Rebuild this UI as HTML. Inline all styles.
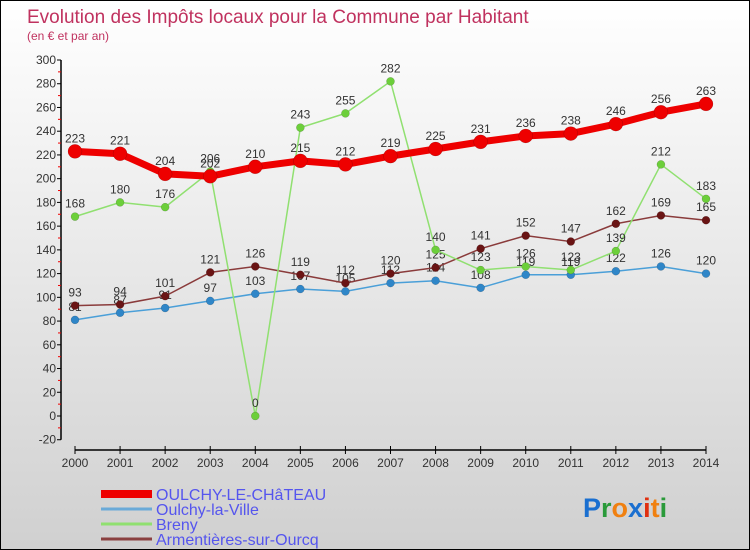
<!DOCTYPE html>
<html><head><meta charset="utf-8"><style>
body{margin:0}
#c{width:750px;height:550px;position:relative;box-sizing:border-box;border:1px solid #000;background:linear-gradient(#ffffff,#d0d0d0);font-family:"Liberation Sans",sans-serif;overflow:hidden}
</style></head><body>
<div id="c">
<svg id="s" width="748" height="548" style="position:absolute;left:0;top:0"></svg>
</div>
<script>
const years=[2000,2001,2002,2003,2004,2005,2006,2007,2008,2009,2010,2011,2012,2013,2014];
const oulchyChateau=[223,221,204,202,210,215,212,219,225,231,236,238,246,256,263];
const oulchyVille=[81,87,91,97,103,107,105,112,114,108,119,119,122,126,120];
const breny=[168,180,176,206,0,243,255,282,140,123,126,123,139,212,183];
const armentieres=[93,94,101,121,126,119,112,120,125,141,152,147,162,169,165];
const yTicks=[-20,0,20,40,60,80,100,120,140,160,180,200,220,240,260,280,300];
const seriesNames=["OULCHY-LE-CHâTEAU","Oulchy-la-Ville","Breny","Armentières-sur-Ourcq"];
const NS="http://www.w3.org/2000/svg";
const s=document.getElementById('s');
function el(t,a,p){const e=document.createElementNS(NS,t);for(const k in a)e.setAttribute(k,a[k]);(p||s).appendChild(e);return e;}
const x=i=>74+i*(705-74)/14;
const y=v=>415-v*(415-59)/300;
let t=el('text',{x:26,y:22,fill:'#c0325f','font-size':19});t.textContent="Evolution des Impôts locaux pour la Commune par Habitant";

t=el('text',{x:26,y:39,fill:'#c0325f','font-size':12});t.textContent="(en € et par an)";

// y axis
let ax=el('line',{x1:60,y1:y(300),x2:60,y2:y(-20),stroke:'#000','stroke-width':1.5});

yTicks.forEach((v,i)=>{
 el('line',{x1:56,x2:60,y1:y(v),y2:y(v),stroke:'#000'});
 if(i<yTicks.length-1)el('line',{x1:57,x2:60,y1:y(v+10),y2:y(v+10),stroke:'#e00'});
 const tt=el('text',{x:55,y:y(v)+4,'text-anchor':'end','font-size':12,fill:'#333'});tt.textContent=v;
 
});
ax=el('line',{x1:x(0),y1:449,x2:x(14),y2:449,stroke:'#000','stroke-width':1.5});

years.forEach((yr,i)=>{
 el('line',{x1:x(i),x2:x(i),y1:445,y2:453,stroke:'#000'});
 const tt=el('text',{x:x(i),y:466,'text-anchor':'middle','font-size':12,fill:'#333'});tt.textContent=yr;
 
});
function series(d,col,dot,w,r,name){
 const g=el('g',{});
 el('polyline',{points:d.map((v,i)=>x(i)+','+y(v)).join(' '),fill:'none',stroke:col,'stroke-width':w,'stroke-linejoin':'round'},g);
 d.forEach((v,i)=>{
  const c=el('circle',{cx:x(i),cy:y(v),r:r,fill:dot,stroke:'rgba(0,0,0,0.25)','stroke-width':0.5},g);
  
  const tt=el('text',{x:x(i),y:y(v)-9,'text-anchor':'middle','font-size':12,fill:'#333'},g);tt.textContent=v;
 });
}
series(oulchyVille,'#4a9fd8','#2f86c8',1.5,4,'series-oulchy-la-ville');
series(armentieres,'#8a3b3b','#6a1414',1.5,4,'series-armentieres');
series(breny,'#90e070','#6ccf3a',1.5,4,'series-breny');
series(oulchyChateau,'#ee0000','#ee0000',7,7,'series-oulchy-le-chateau');
// legend
const lc=[['#ee0000',8],['#6aaad8',3],['#90e070',3],['#8a4040',3]];
seriesNames.forEach((n,i)=>{
 const ly=493+i*15;
 const g=el('g',{});
 el('line',{x1:100,x2:151,y1:ly,y2:ly,stroke:lc[i][0],'stroke-width':lc[i][1]},g);
 const tt=el('text',{x:155,y:ly+6,'font-size':16,fill:'#5555ee'},g);tt.textContent=n;
});
// logo
const lg=el('text',{x:582,y:516,'font-size':27,'font-weight':'bold'});

[['P','#1a6fd0'],['r','#2a9a3a'],['o','#f08010'],['x','#1a6fd0'],['i','#e03010'],['t','#f08010'],['i','#2a9a3a']].forEach(([c,f])=>{const sp=el('tspan',{fill:f},lg);sp.textContent=c;});
</script>
</body></html>
